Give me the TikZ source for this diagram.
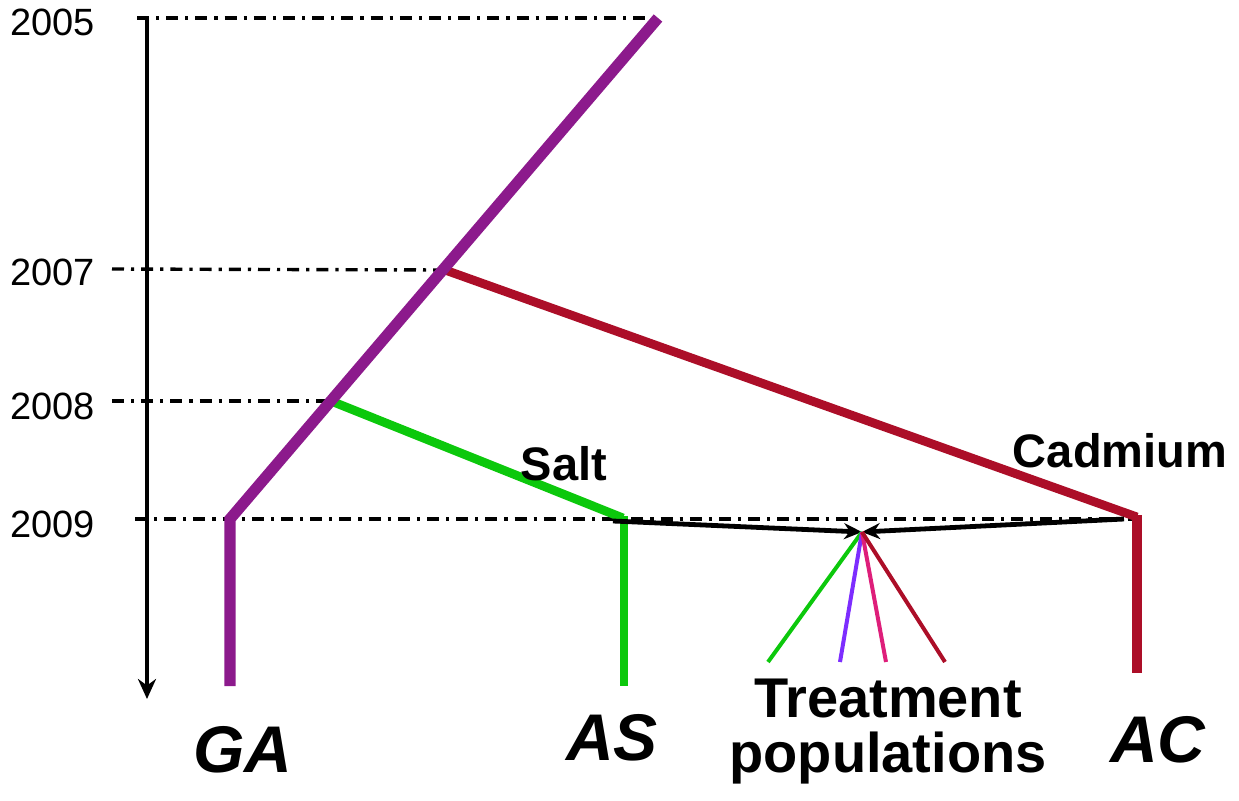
\documentclass[tikz,border=0pt]{standalone}
\usepackage{fontspec}
\setmainfont{Liberation Sans}
\usetikzlibrary{arrows.meta}
\definecolor{cpurple}{RGB}{140,26,140}
\definecolor{cgreen}{RGB}{12,200,12}
\definecolor{cred}{RGB}{172,14,40}
\definecolor{cviolet}{RGB}{125,45,255}
\definecolor{cpink}{RGB}{222,30,122}
\tikzset{
  guide/.style={line width=1.7pt, dash pattern=on 6pt off 3.5pt on 1.6pt off 3.5pt},
  yearlbl/.style={anchor=west, inner sep=0pt, font=\fontsize{19}{22}\selectfont},
  treatlbl/.style={inner sep=0pt, font=\bfseries\fontsize{23.5}{28}\selectfont},
  poplbl/.style={anchor=base, inner sep=0pt, font=\bfseries\itshape\fontsize{33}{38}\selectfont},
  tpop/.style={anchor=base, inner sep=0pt, font=\bfseries\fontsize{28}{33}\selectfont},
  thin/.style={line width=2pt},
  conv/.style={line width=2.4pt, -{Stealth[length=9pt,width=8pt]}},
}
\begin{document}
\begin{tikzpicture}[x=0.5pt,y=-0.5pt]
\useasboundingbox (0,0) rectangle (1239,800);
% coordinates
\coordinate (g05a) at (137,18);
\coordinate (top) at (658,18);
\coordinate (g07a) at (112,269);
\coordinate (b07) at (445,270);
\coordinate (g08a) at (112,401);
\coordinate (b08) at (331,401);
\coordinate (g09a) at (135,519);
\coordinate (g09b) at (1135,519);
\coordinate (ga0) at (230,519);
\coordinate (ga1) at (230,686);
\coordinate (as0) at (623,518);
\coordinate (as0v) at (624,516);
\coordinate (as1) at (624,686);
\coordinate (ac0) at (1137,517);
\coordinate (ac0v) at (1137,515);
\coordinate (ac1) at (1137,673);
\coordinate (axtop) at (147,17);
\coordinate (axbot) at (147,699);
\coordinate (lstart) at (613,521);
\coordinate (rstart) at (1124,519);
\coordinate (cv) at (862,532);
\coordinate (t1) at (768,662);
\coordinate (t2) at (840,662);
\coordinate (t3) at (886,662);
\coordinate (t4) at (945,662);
% guides
\draw[guide] (g05a) -- (top);
\draw[guide] (g07a) -- (b07);
\draw[guide] (g08a) -- (b08);
\draw[guide] (g09a) -- (g09b);
% axis
\draw[line width=2pt, -{Stealth[length=10pt,width=9pt]}] (axtop) -- (axbot);
% year labels
\node[yearlbl] (y05) at (10,22) {2005};
\node[yearlbl] (y07) at (10,272) {2007};
\node[yearlbl] (y08) at (10,406) {2008};
\node[yearlbl] (y09) at (10,524) {2009};
% branches
\draw[cred, line width=4.4pt] (b07) -- (ac0);
\draw[cred, line width=4.6pt] (ac0v) -- (ac1);
\draw[cgreen, line width=4.4pt] (b08) -- (as0);
\draw[cgreen, line width=4.4pt] (as0v) -- (as1);
\draw[cpurple, line width=5.6pt, line join=miter] (top) -- (ga0) -- (ga1);
% converging arrows
\draw[conv] (lstart) -- (cv);
\draw[conv] (rstart) -- (cv);
% treatment lines
\draw[cgreen, thin] (cv) -- (t1);
\draw[cviolet, thin] (cv) -- (t2);
\draw[cpink, thin] (cv) -- (t3);
\draw[cred, thin] (cv) -- (t4);
% labels
\node[treatlbl] (salt) at (564,464) {Salt};
\node[treatlbl] (cad) at (1120,451) {Cadmium};
\node[poplbl] (ga) at (243,772) {GA};
\node[poplbl] (as) at (612,760) {AS};
\node[poplbl] (ac) at (1158,762) {AC};
\node[tpop] (tr) at (888,717) {Treatment};
\node[tpop] (pp) at (888,772) {populations};
\end{tikzpicture}
\end{document}
